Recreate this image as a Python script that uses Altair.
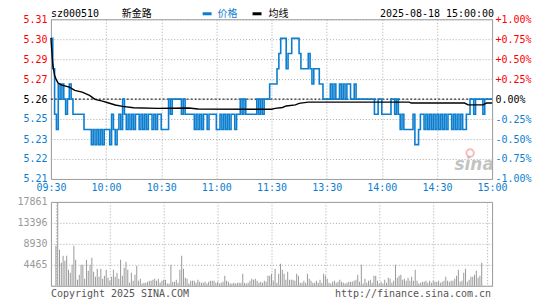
import json
import altair as alt
import pandas as pd

stock_code = "sz000510"
stock_name = "新金路"
timestamp = "2025-08-18 15:00:00"
legend_price = "价格"
legend_avg = "均线"
copyright_text = "Copyright 2025 SINA.COM"
url_text = "http://finance.sina.com.cn"
prev_close = 5.26

time_ticks = [0, 30, 60, 90, 120, 150, 180, 210, 240]
time_labels = ["09:30", "10:00", "10:30", "11:00", "11:30", "13:30", "14:00", "14:30", "15:00"]
price_ticks = [5.2074, 5.2206, 5.2337, 5.2469, 5.26, 5.2732, 5.2863, 5.2995, 5.3126]
pct_ticks = [-1.0, -0.75, -0.5, -0.25, 0.0, 0.25, 0.5, 0.75, 1.0]
vol_ticks = [0, 4465, 8930, 13396, 17861]

minutes = list(range(241))

price = [
    5.30, 5.28, 5.25, 5.24, 5.27, 5.26, 5.27, 5.26, 5.25, 5.26,
    5.27, 5.26, 5.25, 5.25, 5.25, 5.25, 5.25, 5.25, 5.24, 5.24,
    5.24, 5.24, 5.23, 5.24, 5.23, 5.24, 5.23, 5.24, 5.23, 5.24,
    5.24, 5.24, 5.23, 5.25, 5.24, 5.23, 5.24, 5.25, 5.24, 5.26,
    5.25, 5.24, 5.25, 5.24, 5.25, 5.24, 5.25, 5.25, 5.24, 5.25,
    5.24, 5.25, 5.24, 5.25, 5.25, 5.24, 5.25, 5.24, 5.25, 5.25,
    5.24, 5.24, 5.24, 5.24, 5.26, 5.25, 5.26, 5.26, 5.26, 5.26,
    5.26, 5.25, 5.26, 5.25, 5.25, 5.25, 5.25, 5.25, 5.24, 5.25,
    5.24, 5.25, 5.24, 5.25, 5.25, 5.24, 5.25, 5.25, 5.25, 5.25,
    5.24, 5.24, 5.25, 5.24, 5.25, 5.24, 5.25, 5.24, 5.25, 5.25,
    5.24, 5.25, 5.25, 5.26, 5.25, 5.26, 5.25, 5.25, 5.25, 5.25,
    5.25, 5.25, 5.26, 5.25, 5.26, 5.25, 5.26, 5.26, 5.26, 5.27,
    5.27, 5.27, 5.27, 5.28, 5.29, 5.30, 5.30, 5.30, 5.28, 5.29,
    5.29, 5.30, 5.30, 5.30, 5.30, 5.29, 5.28, 5.28, 5.28, 5.28,
    5.29, 5.28, 5.27, 5.28, 5.28, 5.28, 5.27, 5.27, 5.26, 5.26,
    5.26, 5.26, 5.27, 5.26, 5.27, 5.26, 5.26, 5.27, 5.26, 5.27,
    5.26, 5.27, 5.27, 5.26, 5.26, 5.27, 5.26, 5.26, 5.26, 5.26,
    5.26, 5.26, 5.26, 5.26, 5.26, 5.26, 5.25, 5.25, 5.26, 5.26,
    5.25, 5.25, 5.25, 5.25, 5.25, 5.26, 5.26, 5.25, 5.26, 5.25,
    5.24, 5.25, 5.24, 5.24, 5.24, 5.24, 5.24, 5.25, 5.23, 5.23,
    5.24, 5.25, 5.25, 5.24, 5.25, 5.24, 5.25, 5.24, 5.25, 5.24,
    5.25, 5.24, 5.25, 5.24, 5.25, 5.24, 5.25, 5.25, 5.24, 5.25,
    5.24, 5.25, 5.24, 5.25, 5.24, 5.24, 5.25, 5.25, 5.26, 5.26,
    5.25, 5.26, 5.26, 5.26, 5.26, 5.25, 5.26, 5.26, 5.26, 5.26,
    5.26,
]

volume = [
    8500, 17861, 7650, 4890, 6380, 5316, 6380, 3400, 2760, 4465,
    8505, 5530, 1275, 2340, 4465, 4465, 1490, 5530, 3190, 4465,
    5950, 2980, 1915, 3615, 1915, 3615, 1490, 2125, 3400, 1700,
    1063, 1915, 3400, 1915, 2760, 1490, 5530, 2125, 3830, 5100,
    3400, 640, 2760, 1063, 2340, 4250, 1063, 1490, 500, 640,
    640, 850, 1060, 1060, 1275, 1490, 1060, 1490, 640, 1060,
    1275, 1275, 500, 500, 4465, 780, 850, 1275, 640, 3400,
    6380, 3615, 1700, 1490, 500, 1060, 1060, 1060, 640, 1275,
    850, 640, 640, 850, 500, 850, 1060, 1060, 1060, 640,
    850, 500, 640, 850, 2125, 1060, 850, 500, 500, 640,
    500, 640, 640, 640, 2550, 640, 500, 640, 1060, 1490,
    1275, 1490, 1060, 640, 850, 640, 1060, 850, 2125, 2125,
    2550, 1060, 3615, 640, 2550, 4680, 3400, 2550, 1275, 2980,
    1275, 1275, 1275, 1060, 2550, 2125, 640, 640, 1060, 640,
    2550, 1490, 1060, 640, 640, 1060, 640, 1275, 640, 2550,
    2125, 1490, 640, 500, 850, 1060, 640, 850, 1275, 850,
    640, 500, 640, 850, 850, 850, 1060, 1275, 2340, 850,
    4465, 500, 1490, 640, 1060, 1275, 640, 2125, 2125, 1060,
    500, 850, 500, 1275, 640, 1700, 1490, 640, 1060, 4465,
    1700, 2125, 2340, 1275, 1490, 1060, 1700, 1060, 1915, 1060,
    3400, 1060, 500, 640, 850, 850, 1060, 640, 1060, 640,
    1060, 850, 850, 1060, 640, 850, 1060, 1915, 1060, 850,
    1060, 1060, 1490, 2125, 3400, 850, 1060, 2760, 3615, 850,
    1275, 1915, 1915, 2340, 3190, 1700, 2125, 4890, 0, 0,
    0,
]

avg_idx = [0, 1, 2, 3, 4, 6, 10, 13, 17, 21, 24, 28, 31, 35, 39, 45, 58, 75, 80,
           120, 122, 126, 128, 133, 135, 140, 195, 196, 225, 227, 235, 237, 240]
avg_val = [5.3003, 5.2830, 5.2755, 5.2725, 5.2705, 5.2692, 5.2679, 5.2657, 5.2646,
           5.2624, 5.2598, 5.2587, 5.2576, 5.2561, 5.2552, 5.2543, 5.2539, 5.2541,
           5.2535, 5.2533, 5.2539, 5.2545, 5.2555, 5.2562, 5.2572, 5.2580, 5.2580,
           5.2574, 5.2574, 5.2562, 5.2562, 5.2574, 5.2574]

blue = "#0c7ecf"
red = "#ff0000"
gray = "#999999"
grid_gray = "#a8a8a8"
mono = "DejaVu Sans Mono"
cjk = "Noto Sans CJK SC"

W, H, VH = 442, 160, 84

df = pd.DataFrame({"i": minutes, "price": price, "vol": volume})
avg_df = pd.DataFrame({"i": avg_idx, "avg": avg_val})
pct_df = pd.DataFrame({"pct": [0.0]})

x_scale = alt.Scale(domain=[0, 240], nice=False, zero=False)
price_scale = alt.Scale(domain=[price_ticks[0], price_ticks[-1]], nice=False, zero=False)
pct_scale = alt.Scale(domain=[pct_ticks[0], pct_ticks[-1]], nice=False, zero=False)
vol_scale = alt.Scale(domain=[0, vol_ticks[-1]], nice=False)

time_expr = json.dumps(time_labels) + "[round(datum.value / 30)]"

x_axis = alt.Axis(values=time_ticks, labelExpr=time_expr, labelColor=blue,
                  labelFlush=False, labelOverlap=False, labelPadding=4,
                  ticks=False, domain=False, grid=True, gridColor=grid_gray,
                  gridDash=[1, 2], title=None)

price_color = {"condition": [{"test": "datum.value > 5.2605", "value": red},
                             {"test": "datum.value < 5.2595", "value": blue}],
               "value": "#000000"}
pct_color = {"condition": [{"test": "datum.value > 0.001", "value": red},
                           {"test": "datum.value < -0.001", "value": blue}],
             "value": "#000000"}

price_axis = alt.Axis(orient="left", values=price_ticks, format=".2f",
                      labelColor=price_color, ticks=False, domain=False,
                      grid=True, gridColor=grid_gray, gridDash=[1, 2],
                      labelPadding=4, labelOverlap=False, title=None)

pct_expr = ("datum.value > 0.001 ? '+' + format(datum.value, '.2f') + '%' : "
            "(datum.value < -0.001 ? '-' + format(-datum.value, '.2f') + '%' : '0.00%')")
pct_axis = alt.Axis(orient="right", values=pct_ticks, labelExpr=pct_expr,
                    labelColor=pct_color, ticks=False, domain=False, grid=False,
                    labelPadding=3, labelOverlap=False, title=None)

prev_rule = alt.Chart(pct_df).mark_rule(color="#000000", strokeDash=[2, 2], strokeWidth=1).encode(
    y=alt.Y("pct:Q", scale=pct_scale, axis=pct_axis)
)

price_line = alt.Chart(df).mark_line(color=blue, strokeWidth=1.6, interpolate="step-after").encode(
    x=alt.X("i:Q", scale=x_scale, axis=x_axis),
    y=alt.Y("price:Q", scale=price_scale, axis=price_axis),
)

avg_line = alt.Chart(avg_df).mark_line(color="#000000", strokeWidth=1.4).encode(
    x=alt.X("i:Q", scale=x_scale, axis=x_axis),
    y=alt.Y("avg:Q", scale=price_scale, axis=price_axis),
)


def label(text, x, y, color="#000000", font=mono, size=10, align="left", **kw):
    return alt.Chart().mark_text(font=font, fontSize=size, color=color, align=align,
                                 baseline="middle", **kw).encode(
        x=alt.value(x), y=alt.value(y), text=alt.value(text))


hy = -5
header = [
    label(stock_code, 0, hy),
    label(stock_name, 71, hy, font=cjk, size=10),
    alt.Chart().mark_rule(color=blue, strokeWidth=3).encode(
        x=alt.value(152), x2=alt.value(161), y=alt.value(hy - 0.5)),
    label(legend_price, 167, hy, color=blue, font=cjk, size=10),
    alt.Chart().mark_rule(color="#000000", strokeWidth=3).encode(
        x=alt.value(202), x2=alt.value(211), y=alt.value(hy - 0.5)),
    label(legend_avg, 218, hy, font=cjk, size=10),
    label(timestamp, 444, hy, align="right"),
    label("sina", 424, 146, color="#b0b0b0", font="DejaVu Sans", size=17,
          align="center", fontStyle="italic", fontWeight="bold", opacity=0.75),
    alt.Chart().mark_point(shape="circle", filled=False, color="#f2a0a0", size=55,
                           strokeWidth=2, opacity=0.7).encode(
        x=alt.value(420), y=alt.value(134)),
]

top = alt.layer(
    alt.layer(prev_rule, alt.layer(price_line, avg_line)).resolve_scale(y="independent"),
    *header,
).properties(width=W, height=H)

vol_axis = alt.Axis(orient="left", values=vol_ticks,
                    labelExpr="datum.value == 0 ? '' : '' + datum.value",
                    labelColor=gray, ticks=False, domain=False, grid=True,
                    gridColor=grid_gray, gridDash=[1, 2], labelPadding=4,
                    labelOverlap=False, title=None)
vol_x_axis = alt.Axis(values=time_ticks, labels=False, ticks=False, domain=False,
                      grid=True, gridColor=grid_gray, gridDash=[1, 2], title=None)

vol_bars = alt.Chart(df).mark_bar(color=gray, width=1).encode(
    x=alt.X("i:Q", scale=x_scale, axis=vol_x_axis),
    y=alt.Y("vol:Q", scale=vol_scale, axis=vol_axis),
)

bottom = alt.layer(
    vol_bars,
    label(copyright_text, 0, VH + 8, color="#555555"),
    label(url_text, W - 1, VH + 8, color="#555555", align="right"),
).properties(width=W, height=VH)

chart = alt.vconcat(top, bottom, spacing=23, bounds="flush").properties(
    padding={"left": 8, "top": 0, "right": 5, "bottom": 5}
).configure_view(stroke=gray, strokeWidth=1).configure_axis(
    labelFont=mono, labelFontSize=10
)

chart.save("out.html", embed_options={"renderer": "svg", "actions": False})
